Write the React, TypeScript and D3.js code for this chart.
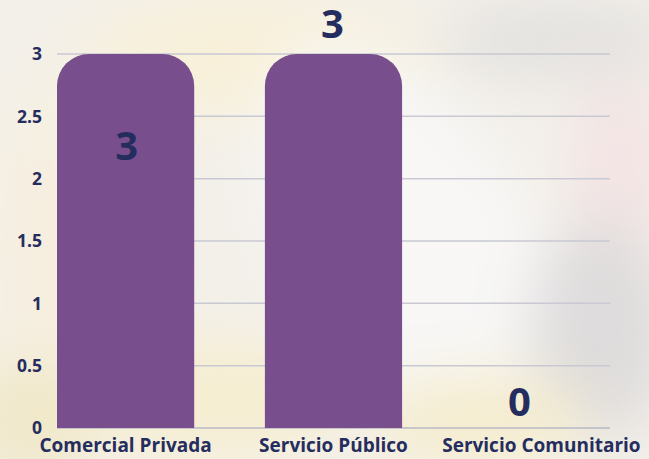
import React from "react";
import * as d3 from "d3";

const categories = ["Comercial Privada", "Servicio Público", "Servicio Comunitario"];
const values = [3, 3, 0];
const yTicks = [0, 0.5, 1, 1.5, 2, 2.5, 3];

const W = 649;
const H = 459;
const TEXT = "#252d5e";
const BAR = "#784f8c";
const FONT = "'Open Sans', 'Noto Sans', sans-serif";

export default function App() {
  const x = d3.scaleBand<string>().domain(categories).range([57, 610]).paddingInner(0.34).paddingOuter(0);
  const y = d3.scaleLinear().domain([0, 3]).range([428, 54]);
  const bw = x.bandwidth();
  const r = 32;

  const barPath = (cat: string, v: number) => {
    const x0 = x(cat)!;
    const y0 = y(0);
    const y1 = y(v);
    const h = y0 - y1;
    if (h <= 0) return "";
    const rr = Math.min(r, h, bw / 2);
    const p = d3.path();
    p.moveTo(x0, y0);
    p.lineTo(x0, y1 + rr);
    p.arcTo(x0, y1, x0 + rr, y1, rr);
    p.lineTo(x0 + bw - rr, y1);
    p.arcTo(x0 + bw, y1, x0 + bw, y1 + rr, rr);
    p.lineTo(x0 + bw, y0);
    p.closePath();
    return p.toString();
  };

  // label placements: inside for first, above for second, above baseline for third
  const labelPos = [
    { dx: 1, yv: 2.25, off: 12 },
    { dx: -1, yv: 3, off: -16 },
    { dx: -22, yv: 0, off: -12 },
  ];

  return (
    <svg width={W} height={H} style={{ position: "fixed", left: 0, top: 0 }} fontFamily={FONT}>
      <defs>
        <filter id="blur" x="-20%" y="-20%" width="140%" height="140%">
          <feGaussianBlur stdDeviation="28" />
        </filter>
      </defs>
      <rect width={W} height={H} fill="#f3f0ea" />
      <g filter="url(#blur)">
        <ellipse cx={250} cy={60} rx={180} ry={60} fill="#f8f0d8" />
        <ellipse cx={80} cy={250} rx={90} ry={200} fill="#f6efe0" />
        <ellipse cx={420} cy={260} rx={120} ry={240} fill="#f8f7f6" transform="rotate(-30 420 260)" />
        <ellipse cx={560} cy={40} rx={120} ry={40} fill="#e4e2e0" />
        <ellipse cx={620} cy={170} rx={50} ry={90} fill="#f3e4e4" />
        <ellipse cx={600} cy={330} rx={70} ry={110} fill="#dedcdc" />
        <ellipse cx={210} cy={400} rx={140} ry={60} fill="#f6eed2" />
        <ellipse cx={30} cy={420} rx={60} ry={60} fill="#f0e8c8" />
        <ellipse cx={480} cy={420} rx={110} ry={50} fill="#f5edd0" />
        <ellipse cx={120} cy={110} rx={80} ry={50} fill="#f7f2e4" />
      </g>
      {yTicks.map((t) => (
        <line key={t} x1={57} x2={610} y1={y(t)} y2={y(t)} stroke={t === 0 ? "#b9b9c6" : "#c9c9d3"} strokeWidth={1.5} />
      ))}
      {yTicks.map((t) => (
        <text key={"l" + t} x={42} y={y(t)} dy="0.36em" textAnchor="end" fontSize={17.5} fontWeight={700} fill={TEXT}>
          {String(t)}
        </text>
      ))}
      {categories.map((c, i) => (
        <path key={c} d={barPath(c, values[i])} fill={BAR} />
      ))}
      {categories.map((c, i) => {
        const lp = labelPos[i];
        const cx = x(c)! + bw / 2 + lp.dx;
        const yy = y(lp.yv) + lp.off;
        return (
          <text key={"v" + c} x={cx} y={yy} textAnchor="middle" fontSize={40} fontWeight={700} fill={TEXT}>
            {values[i]}
          </text>
        );
      })}
      {categories.map((c) => (
        <text key={"c" + c} x={x(c)! + bw / 2} y={452} textAnchor="middle" fontSize={19} fontWeight={700} fill={TEXT}>
          {c}
        </text>
      ))}
    </svg>
  );
}
